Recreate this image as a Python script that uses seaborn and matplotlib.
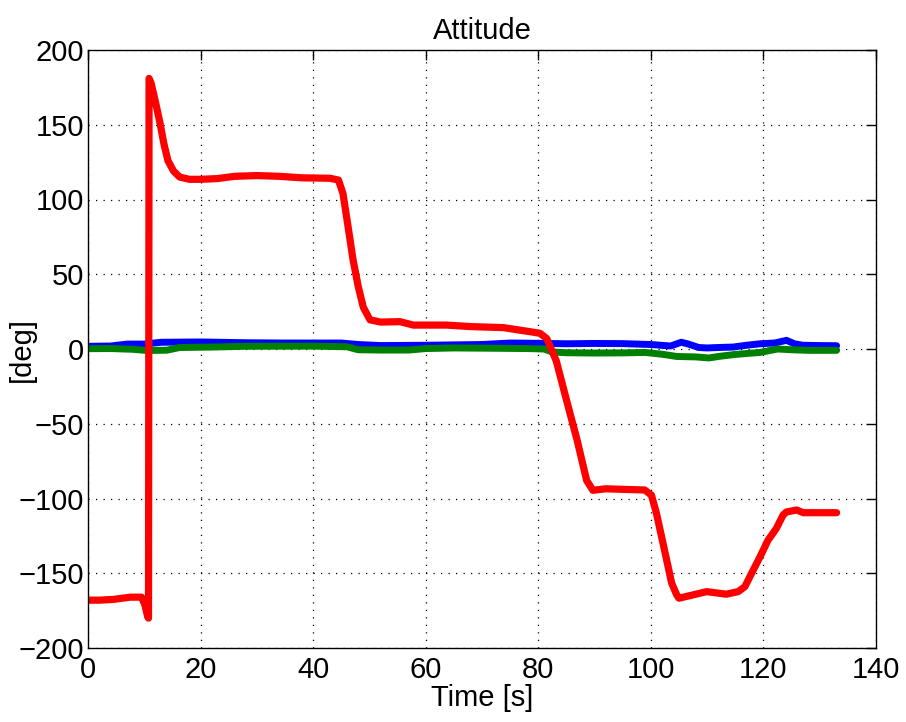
import numpy as np
import pandas as pd
import matplotlib
matplotlib.use("Agg")
import matplotlib.pyplot as plt
import seaborn as sns

# ---- data ----
red_t = [0, 2, 4.5, 7.5, 9.5, 10.1, 10.6, 10.75, 10.85, 11.2, 12, 12.8, 13.5, 14.2,
         15.2, 16.3, 18, 20, 23, 26, 30, 34, 38, 43, 44.5, 45.3, 46.2, 47.1, 48,
         48.9, 50.1, 52, 55.4, 57.8, 63.7, 67.9, 73.8, 78.5, 80.3, 81.5, 82.4, 83.2,
         85, 86.9, 88.6, 89.7, 92, 96, 98.9, 100.1, 101, 101.9, 102.8, 103.7, 104.6,
         105, 106.9, 109.9, 113.4, 115.5, 116.7, 117.9, 119.4, 120.8, 122.3, 123.5,
         124.1, 125.9, 127.1, 133]
red_y = [-168, -168, -167.5, -166, -166, -171, -179, -180, 181, 178, 165, 151, 137, 126,
         119, 115, 113.5, 113.5, 114, 115.5, 116, 115.5, 114.5, 114.2, 113, 104, 82, 59.5, 42,
         28, 19.5, 18, 18.3, 16, 16, 15, 14.3, 11.6, 10.5, 7, -1, -8,
         -34, -61, -88, -94.5, -93.5, -94, -94.3, -97.7, -110, -125.5, -141, -156.7, -164.5,
         -166.7, -165, -162.3, -164, -162.3, -159, -150, -139, -128, -120, -111,
         -109, -107.7, -109.5, -109.5]

blue_t = [0, 4, 7, 10, 13, 20, 28, 35, 45, 48, 52, 60, 70, 75, 80, 85, 90, 95, 100,
          103.5, 105.4, 106.5, 108.5, 110, 112, 114.6, 117, 119.4, 122, 124.1, 125.5,
          127, 130, 133]
blue_y = [1.8, 2, 3.3, 3.3, 4.5, 4.7, 4.2, 4, 4, 3, 2.3, 2.5, 3, 4, 3.8, 3.5, 3.7, 3.6, 3,
          2, 4.5, 3.5, 1, 0.7, 1, 1.3, 2.5, 3.5, 4, 5.8, 3.5,
          2.5, 2.3, 2.2]

green_t = [0, 4, 8, 10.5, 14, 16.3, 22, 28, 40, 46, 48, 52, 57, 60, 65, 72, 78, 81, 82.5,
           85, 90, 95, 99, 102, 104.6, 108, 110.3, 112, 114.6, 117, 119.4, 122.5, 125,
           128, 133]
green_y = [0.2, 0.3, -0.2, -1, -0.8, 1, 1.3, 1.8, 1.9, 1.5, -0.5, -0.7, -0.7, 0.3, 0.7, 0.5,
           0.3, 0, -2, -2.5, -2.7, -2.6, -2.3, -3.5, -5, -5.3, -6, -5, -3.8, -3, -2.3, 0,
           -0.5, -0.9, -0.9]

x_ticks = [0, 20, 40, 60, 80, 100, 120, 140]
y_ticks = [-200, -150, -100, -50, 0, 50, 100, 150, 200]

sns.set_style("white")
plt.rcParams['font.family'] = ['Liberation Sans', 'DejaVu Sans']
plt.rcParams['text.color'] = 'black'
plt.rcParams['axes.labelcolor'] = 'black'

fig = plt.figure(figsize=(9.06, 7.22), dpi=100)
ax = fig.add_axes([88 / 906, 74 / 722, 788 / 906, 598 / 722])

ax.grid(True, color='black', linestyle=(0, (1, 5)), linewidth=0.9)
ax.set_axisbelow(True)

sns.lineplot(x=blue_t, y=blue_y, ax=ax, color=(0, 0, 1), linewidth=5, sort=False,
             estimator=None)
sns.lineplot(x=green_t, y=green_y, ax=ax, color=(0, 0.5, 0), linewidth=5, sort=False,
             estimator=None)
sns.lineplot(x=red_t, y=red_y, ax=ax, color=(1, 0, 0), linewidth=5.2, sort=False,
             estimator=None)

ax.set_xlim(0, 140)
ax.set_ylim(-200, 200)
ax.set_xticks(x_ticks)
ax.set_yticks(y_ticks)
ax.tick_params(direction='in', length=7, width=1, top=True, right=True,
               labelsize=21, colors='black', labelcolor='black')
ax.tick_params(axis='x', pad=6)
ax.tick_params(axis='y', pad=3)
for s in ax.spines.values():
    s.set_visible(True)
    s.set_color('black')
    s.set_linewidth(1)

ax.set_title('Attitude', fontsize=21, pad=8, color='black')
ax.set_xlabel('Time [s]', fontsize=21, labelpad=0)
ax.set_ylabel('[deg]', fontsize=21)
ax.yaxis.set_label_coords(-0.066, 0.5)

fig.savefig('out.png', dpi=100)
